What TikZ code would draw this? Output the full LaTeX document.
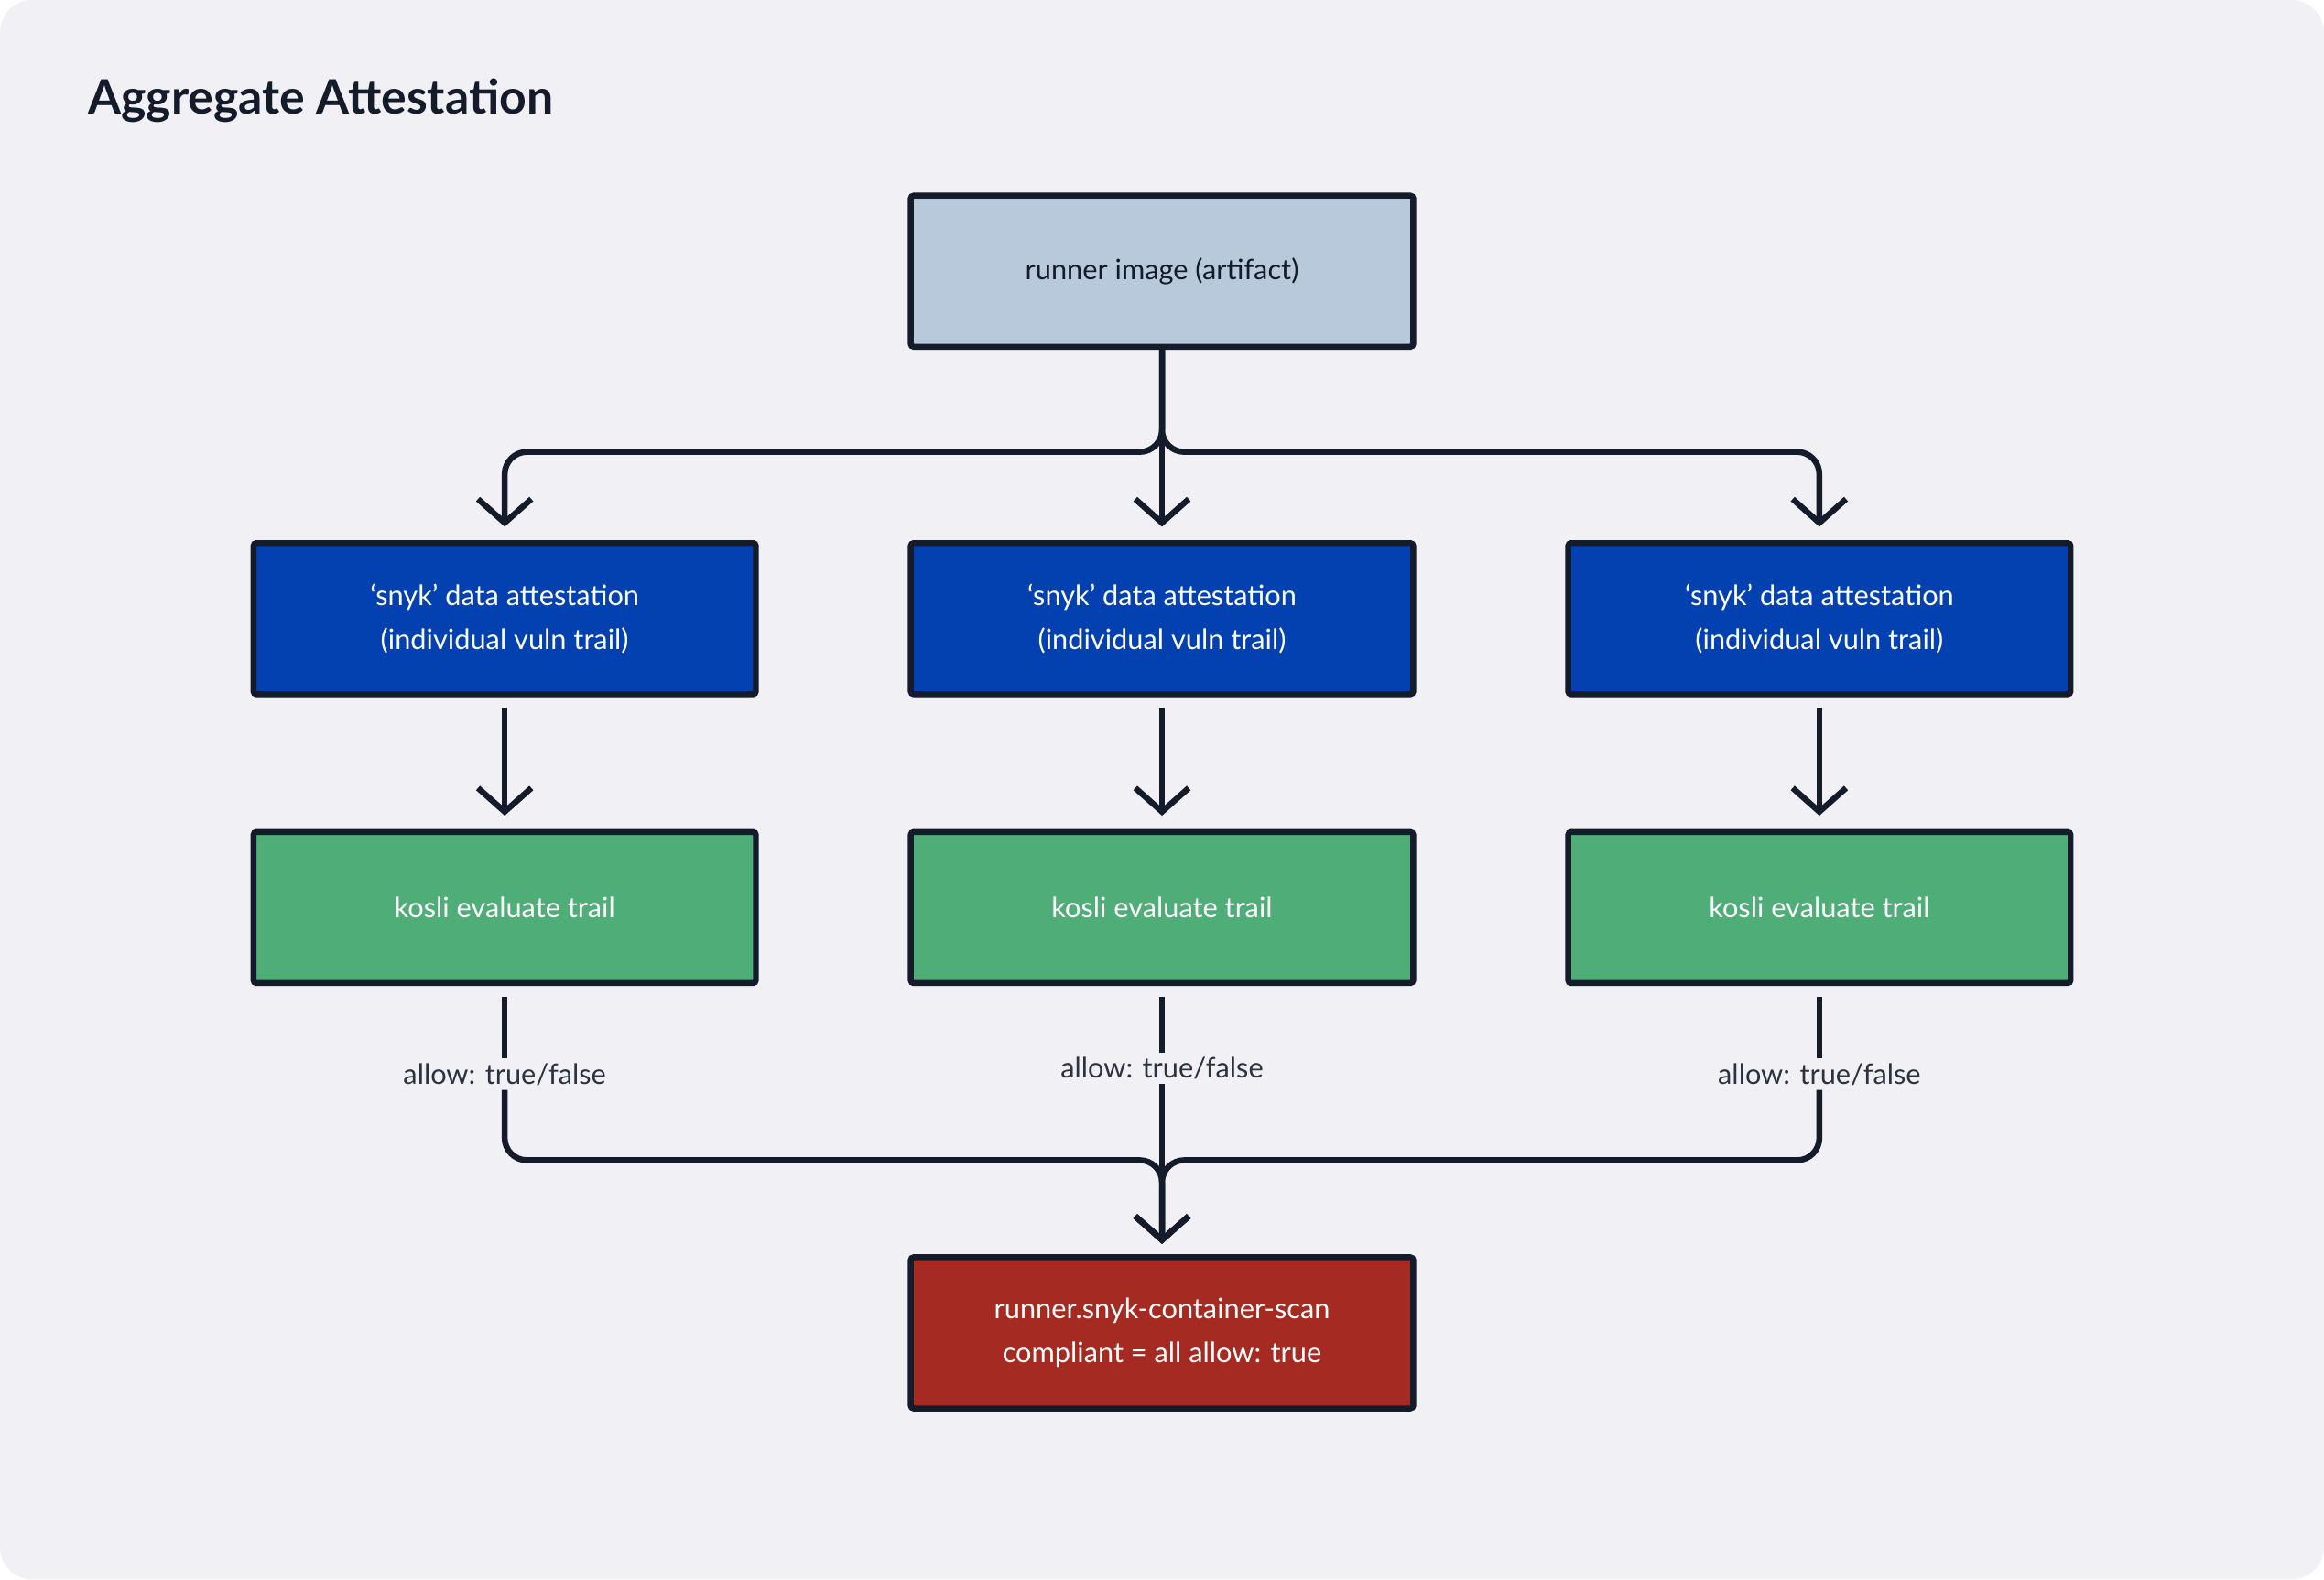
\documentclass[tikz,border=0pt]{standalone}
\usepackage{fontspec}
\setmainfont{Lato}
\usetikzlibrary{arrows.meta}
\definecolor{bgc}{HTML}{F1F1F5}
\definecolor{linec}{HTML}{141B2B}
\definecolor{artc}{HTML}{B8C9DC}
\definecolor{snykc}{HTML}{0340B0}
\definecolor{evalc}{HTML}{4FAE78}
\definecolor{resc}{HTML}{A52A22}
\tikzset{
  box/.style={draw=linec, line width=4pt, rounded corners=2pt, minimum width=339pt,
    minimum height=102pt, align=center, font=\fontsize{19}{30}\selectfont},
  arr/.style={draw=linec, line width=4pt, rounded corners=15pt,
    -{Straight Barb[length=16pt, width=36pt, line width=4pt]}},
  seg/.style={draw=linec, line width=4pt},
  lbl/.style={font=\fontsize{19}{22}\selectfont, text=linec!90, inner sep=3pt}
}
\begin{document}
\begin{tikzpicture}[x=1pt, y=-1pt]
  \fill[bgc, rounded corners=22pt] (0,0) rectangle (1568,1066);
  \node[anchor=west, font=\bfseries\fontsize{32}{36}\selectfont, text=linec] (title) at (56,68) {Aggregate Attestation};

  \node[box, fill=artc, text=linec] (art) at (784,183) {runner image (artifact)};

  \foreach \i/\x in {1/340.5, 2/784, 3/1227.5} {
    \node[box, fill=snykc, text=white] (s\i) at (\x,417.5) {‘snyk’ data attestation\\(individual vuln trail)};
    \node[box, fill=evalc, text=white] (e\i) at (\x,612.5) {kosli evaluate trail};
  }
  \node[lbl] (l1) at (340.5,725) {allow: true/false};
  \node[lbl] (l2) at (784,721) {allow: true/false};
  \node[lbl] (l3) at (1227.5,725) {allow: true/false};

  \node[box, fill=resc, text=white] (res) at (784,899.5) {runner.snyk-container-scan\\compliant = all allow: true};

  \coordinate (top) at (784,305);
  \coordinate (bot) at (784,783);

  % fan out
  \foreach \i in {1,2,3} {
    \draw[arr, shorten >=9pt] (art.south) -- (top) -| (s\i.north);
    \draw[arr, shorten <=7pt, shorten >=9pt] (s\i.south) -- (e\i.north);
    \draw[seg, shorten <=7pt] (e\i.south) -- (l\i.north);
  }
  % fan in
  \draw[arr, shorten >=7pt] (l1.south) |- (bot) -- (res.north);
  \draw[arr, shorten >=7pt] (l3.south) |- (bot) -- (res.north);
  \draw[arr, shorten >=7pt] (l2.south) -- (res.north);
\end{tikzpicture}
\end{document}
